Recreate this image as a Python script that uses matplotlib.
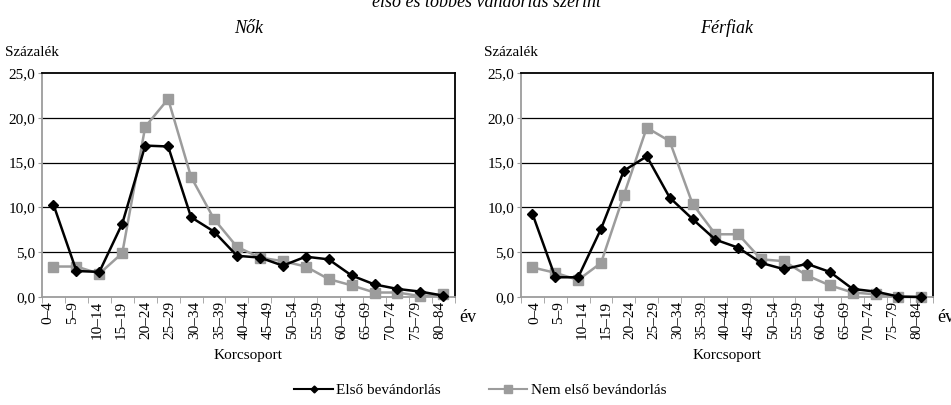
import numpy as np
import matplotlib
matplotlib.use("Agg")
import matplotlib.pyplot as plt

plt.rcParams['font.family'] = ['Liberation Serif', 'DejaVu Serif']

# categories: 18 data points, 17 labels on the axis
age_labels = ["0–4", "5–9", "10–14", "15–19", "20–24", "25–29", "30–34", "35–39",
              "40–44", "45–49", "50–54", "55–59", "60–64", "65–69", "70–74",
              "75–79", "80–84"]

# Nők
women_first = [10.3, 2.9, 2.8, 8.2, 16.9, 16.8, 8.9, 7.3, 4.6, 4.4, 3.5, 4.5,
               4.2, 2.4, 1.4, 0.9, 0.6, 0.15]
women_other = [3.4, 3.4, 2.6, 4.9, 19.0, 22.1, 13.4, 8.7, 5.6, 4.4, 4.0, 3.4,
               2.0, 1.3, 0.5, 0.5, 0.1, 0.3]

# Férfiak
men_first = [9.3, 2.2, 2.2, 7.6, 14.1, 15.7, 11.1, 8.7, 6.4, 5.5, 3.8, 3.1,
             3.7, 2.8, 0.9, 0.6, 0.05, 0.0]
men_other = [3.3, 2.7, 1.9, 3.8, 11.4, 18.9, 17.4, 10.4, 7.0, 7.0, 4.2, 4.0,
             2.4, 1.3, 0.5, 0.3, 0.0, 0.0]

y_ticks = [0, 5, 10, 15, 20, 25]
GRAY = "#9c9c9c"

fig = plt.figure(figsize=(9.51, 4.05), dpi=100)


def draw_panel(rect, first, other, title, label_pos):
    ax = fig.add_axes(rect)
    x = np.arange(len(first))
    ax.plot(x, other, color=GRAY, lw=1.8, marker="s", ms=7.5, mec=GRAY,
            mfc=GRAY, clip_on=False, zorder=3)
    ax.plot(x, first, color="black", lw=1.8, marker="D", ms=5, clip_on=False,
            zorder=4)
    ax.set_xlim(-0.5, len(first) - 0.5)
    ax.set_ylim(0, 25)
    ax.set_yticks(y_ticks)
    ax.set_yticklabels([f"{v:.1f}".replace(".", ",") for v in y_ticks],
                       fontsize=11)
    for v in y_ticks[1:-1]:
        ax.axhline(v, color="black", lw=0.9, zorder=1)
    ax.spines["top"].set_color("black")
    ax.spines["right"].set_color("black")
    ax.spines["left"].set_color(GRAY)
    ax.spines["bottom"].set_color(GRAY)
    for s in ax.spines.values():
        s.set_linewidth(1.3)
    ax.tick_params(axis="y", color=GRAY, length=3, pad=2)
    ax.set_xticks(np.arange(-0.5, len(first)), minor=True)
    ax.set_xticks(label_pos)
    ax.set_xticklabels(age_labels, rotation=90, fontsize=11)
    ax.tick_params(axis="x", which="major", length=0, pad=3)
    ax.tick_params(axis="x", which="minor", color=GRAY, length=4)
    ax.set_xlabel("Korcsoport", fontsize=11, labelpad=7)
    ax.set_title(title, fontsize=13, style="italic", pad=29)
    ax.text(-0.09, 1.062, "Százalék", transform=ax.transAxes, fontsize=11,
            ha="left", va="bottom")
    ax.text(1.01, -0.09, "év", transform=ax.transAxes, fontsize=13,
            ha="left", va="center")
    return ax


pos = np.linspace(-0.25, 16.85, 17)
draw_panel([0.0442, 0.2667, 0.434, 0.553], women_first, women_other, "Nők", pos)
pos = np.linspace(0.1, 16.8, 17)
draw_panel([0.5478, 0.2667, 0.433, 0.553], men_first, men_other, "Férfiak", pos)

fig.text(0.512, 0.983, "első és többes vándorlás szerint", fontsize=13,
         style="italic", ha="center", va="baseline")

h1, = plt.plot([], [], color="black", lw=1.5, marker="D", ms=3.5)
h2, = plt.plot([], [], color=GRAY, lw=1.5, marker="s", ms=6)
fig.legend([h1, h2], ["Első bevándorlás", "Nem első bevándorlás"],
           loc="center", bbox_to_anchor=(0.505, 0.037), ncol=2, frameon=False,
           fontsize=11, handlelength=2.5, handletextpad=0.2, columnspacing=3.2)

fig.savefig("out.png", dpi=100)
